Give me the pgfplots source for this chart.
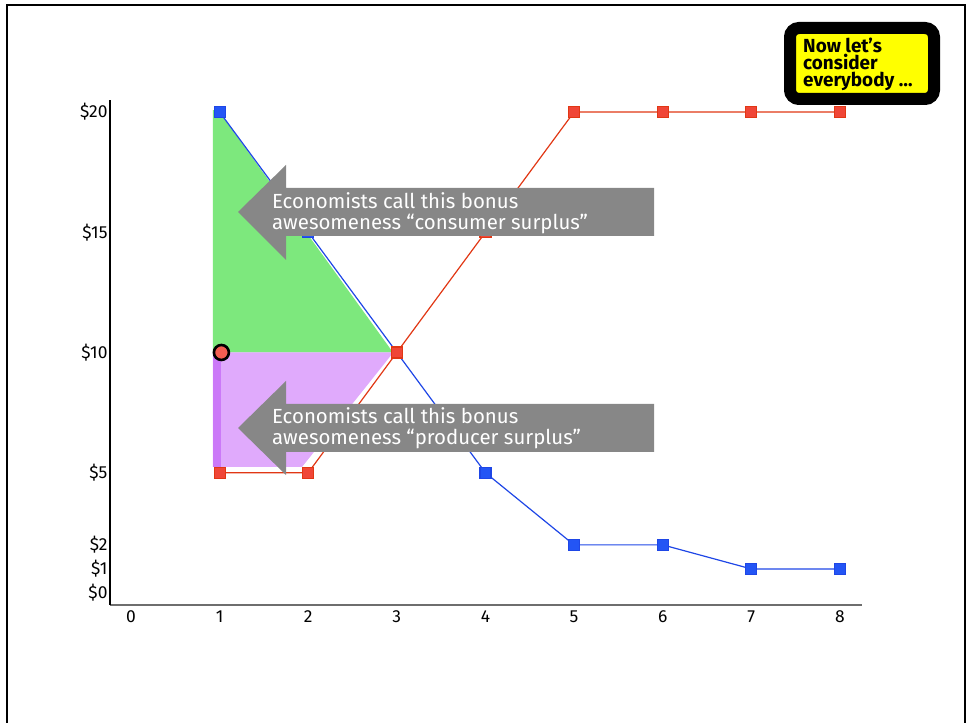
\documentclass[border=0pt]{standalone}
\usepackage{pgfplots}
\pgfplotsset{compat=1.18}
\usepackage{fontspec}
\setmainfont{Fira Sans}

\definecolor{demand}{RGB}{30,70,230}
\definecolor{demandmk}{RGB}{35,85,245}
\definecolor{supply}{RGB}{225,55,20}
\definecolor{supplymk}{RGB}{240,70,55}
\definecolor{csgreen}{RGB}{92,226,92}
\definecolor{pspurple}{RGB}{216,149,251}
\definecolor{psstrip}{RGB}{190,90,245}
\definecolor{arrowgray}{RGB}{135,135,135}
\definecolor{axgray}{RGB}{110,110,110}
\definecolor{noteyellow}{RGB}{255,255,0}

\begin{document}
\begin{tikzpicture}[x=1bp,y=1bp]
\useasboundingbox (0,0) rectangle (967,723);

\begin{axis}[
    at={(110bp,118bp)}, anchor=south west,
    scale only axis, width=752bp, height=505bp,
    xmin=-0.237, xmax=8.25, ymin=-0.5, ymax=20.5,
    axis x line=bottom, axis y line=left,
    axis line style={-},
    x axis line style={draw=axgray, line width=1.6bp},
    y axis line style={draw=black, line width=1.2bp},
    major tick length=0,
    xtick={0,1,2,3,4,5,6,7,8},
    xticklabels={0,1,2,3,4,5,6,7,8},
    ytick={0,1,2,5,10,15,20},
    yticklabels={\$0,\$1,\$2,\$5,\$10,\$15,\$20},
    xticklabel style={font=\fontsize{17.5}{17.5}\selectfont, yshift=-2bp},
    yticklabel style={font=\fontsize{17.5}{17.5}\selectfont, xshift=1bp},
    clip=false]

% the circled point at the market price
\addplot[only marks, mark=*, mark size=7.5bp,
    mark options={fill=supplymk!80!pink, draw=black, line width=2.6bp}]
    coordinates {(1.02,10)};

% consumer surplus
\addplot[draw=none, fill=csgreen, fill opacity=0.8]
    coordinates {(0.925,20.08) (0.982,20.08) (2.957,10) (0.925,10)} -- cycle;
% producer surplus
\addplot[draw=none, fill=pspurple, fill opacity=0.8]
    coordinates {(0.925,10) (2.96,10) (1.93,5.24) (0.925,5.24)} -- cycle;
\addplot[draw=none, fill=psstrip, fill opacity=0.6]
    coordinates {(0.925,10) (1.015,10) (1.015,5.24) (0.925,5.24)} -- cycle;

% demand
\addplot[demand, line width=1.2bp, mark=square*, mark size=5.5bp,
    mark options={draw=none, fill=demandmk}]
    coordinates {(1,20) (2,15) (3,10) (4,5) (5,2) (6,2) (7,1) (8,1)};
% supply
\addplot[supply, line width=1.2bp, mark=square*, mark size=5.5bp,
    mark options={draw=none, fill=supplymk}]
    coordinates {(1,5) (2,5) (3,10) (4,15) (5,20) (6,20) (7,20) (8,20)};
\end{axis}

\begin{scope}[shift={(0,723)}, yscale=-1]
% slide frame
\draw[line width=2.5bp] (7,723) -- (7,5) -- (965,5) -- (965,723);

% callout arrows
\fill[arrowgray] (238,212) -- (286,165) -- (286,188) -- (654,188)
    -- (654,236) -- (286,236) -- (286,260) -- cycle;
\fill[arrowgray] (238,428) -- (286,381) -- (286,404) -- (654,404)
    -- (654,452) -- (286,452) -- (286,475) -- cycle;

\begin{scope}[every node/.style={anchor=base west, inner sep=0pt,
    text=white, font=\fontsize{20.5}{20.5}\selectfont}]
\node at (272,209) {Economists call this bonus};
\node at (272,230) {awesomeness “consumer surplus”};
\node at (272,424) {Economists call this bonus};
\node at (272,445) {awesomeness “producer surplus”};
\end{scope}

% note box
\draw[line width=12bp, rounded corners=9bp, fill=noteyellow]
    (790,28) rectangle (934,99);
\begin{scope}[every node/.style={anchor=base west, inner sep=0pt,
    font=\bfseries\fontsize{19}{19}\selectfont}]
\node at (803,53) {Now let’s};
\node at (803,70) {consider};
\node at (803,87) {everybody …};
\end{scope}
\end{scope}
\end{tikzpicture}
\end{document}
